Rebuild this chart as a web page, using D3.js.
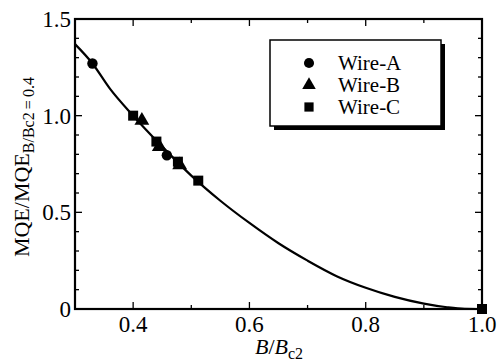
<!DOCTYPE html>
<html>
<head>
<meta charset="utf-8">
<script src="https://cdn.jsdelivr.net/npm/d3@7"></script>
<style>
  body { margin: 0; background: #fff; }
</style>
</head>
<body>
<div id="chart"></div>
<script>
// data
const wireA = [[0.33, 1.27], [0.458, 0.795]];
const wireB = [[0.415, 0.975], [0.445, 0.84], [0.48, 0.745]];
const wireC = [[0.40, 1.00], [0.44, 0.866], [0.477, 0.762], [0.512, 0.664], [1.0, 0.0]];
const fitCurve = [
  [0.30, 1.37], [0.33, 1.27], [0.36, 1.14], [0.40, 1.00], [0.45, 0.84],
  [0.50, 0.69], [0.55, 0.56], [0.60, 0.445], [0.65, 0.34], [0.70, 0.25],
  [0.75, 0.17], [0.80, 0.11], [0.85, 0.063], [0.90, 0.028], [0.94, 0.009],
  [0.97, 0.001], [1.00, 0.0]
];
const xTicks = [0.4, 0.6, 0.8, 1.0];
const xTickLabels = ['0.4', '0.6', '0.8', '1.0'];
const yTicks = [0, 0.5, 1.0, 1.5];
const yTickLabels = ['0', '0.5', '1.0', '1.5'];
const legendNames = ['Wire-A', 'Wire-B', 'Wire-C'];

const W = 502, H = 364;
const margin = { top: 19, right: 20, bottom: 55, left: 75 };
const FONT = 'Liberation Serif';

const svg = d3.select('#chart').append('svg')
  .attr('width', W).attr('height', H)
  .attr('font-family', FONT);

const x = d3.scaleLinear().domain([0.3, 1.0]).range([margin.left, W - margin.right]);
const y = d3.scaleLinear().domain([0, 1.5]).range([H - margin.bottom, margin.top]);

const x0 = x.range()[0], x1 = x.range()[1];
const y0 = y.range()[0], y1 = y.range()[1];

// ticks (inward, on all four sides)
const major = 7, minor = 4;
const tickG = svg.append('g').attr('stroke', '#000').attr('stroke-width', 1.3);
d3.range(0.3, 1.0001, 0.1).forEach(v => {
  const isMajor = Math.abs((v * 10) % 2) < 0.01;
  const len = isMajor ? major : minor;
  tickG.append('line').attr('x1', x(v)).attr('x2', x(v)).attr('y1', y0).attr('y2', y0 - len);
  tickG.append('line').attr('x1', x(v)).attr('x2', x(v)).attr('y1', y1).attr('y2', y1 + len);
});
d3.range(0, 1.5001, 0.1).forEach(v => {
  const isMajor = Math.abs(Math.round(v * 10) % 5) === 0;
  const len = isMajor ? major : minor;
  tickG.append('line').attr('y1', y(v)).attr('y2', y(v)).attr('x1', x0).attr('x2', x0 + len);
  tickG.append('line').attr('y1', y(v)).attr('y2', y(v)).attr('x1', x1).attr('x2', x1 - len);
});

// frame
svg.append('rect')
  .attr('x', x0).attr('y', y1).attr('width', x1 - x0).attr('height', y0 - y1)
  .attr('fill', 'none').attr('stroke', '#000').attr('stroke-width', 2.2);

// tick labels
svg.append('g').selectAll('text').data(xTicks).join('text')
  .attr('x', d => x(d)).attr('y', y0 + 23)
  .attr('text-anchor', 'middle').attr('font-size', 23)
  .text((d, i) => xTickLabels[i]);
svg.append('g').selectAll('text').data(yTicks).join('text')
  .attr('x', x0 - 4).attr('y', d => y(d) + 8)
  .attr('text-anchor', 'end').attr('font-size', 23)
  .text((d, i) => yTickLabels[i]);

// axis titles
const xt = svg.append('text').attr('x', 279).attr('y', 354)
  .attr('text-anchor', 'middle').attr('font-size', 22);
xt.append('tspan').attr('font-style', 'italic').text('B');
xt.append('tspan').text('/');
xt.append('tspan').attr('font-style', 'italic').text('B');
xt.append('tspan').attr('font-size', 16).attr('dy', 5).text('c2');

const yt = svg.append('text')
  .attr('transform', `translate(29, 167) rotate(-90)`)
  .attr('text-anchor', 'middle').attr('font-size', 22);
yt.append('tspan').text('MQE/MQE');
yt.append('tspan').attr('font-size', 16).attr('dy', 5).text('B/Bc2\u2009=\u20090.4');

// fit curve
const line = d3.line().x(d => x(d[0])).y(d => y(d[1])).curve(d3.curveMonotoneX);
svg.append('path').datum(fitCurve)
  .attr('d', line).attr('fill', 'none').attr('stroke', '#000').attr('stroke-width', 2.2);

// markers
const sym = {
  circle: d3.symbol().type(d3.symbolCircle).size(85),
  triangle: d3.symbol().type(d3.symbolTriangle).size(95),
  square: d3.symbol().type(d3.symbolSquare).size(100)
};
const series = [
  { data: wireA, s: sym.circle },
  { data: wireB, s: sym.triangle },
  { data: wireC, s: sym.square }
];
series.forEach(sr => {
  svg.append('g').selectAll('path').data(sr.data).join('path')
    .attr('transform', d => `translate(${x(d[0])},${y(d[1])})`)
    .attr('d', sr.s()).attr('fill', '#000');
});

// legend
const lg = svg.append('g');
lg.append('rect').attr('x', 274).attr('y', 44).attr('width', 171).attr('height', 86).attr('fill', '#000');
lg.append('rect').attr('x', 270).attr('y', 40).attr('width', 171).attr('height', 86)
  .attr('fill', '#fff').attr('stroke', '#000').attr('stroke-width', 1.5);
legendNames.forEach((name, i) => {
  const ly = 63 + i * 22;
  lg.append('path').attr('transform', `translate(309,${ly})`)
    .attr('d', series[i].s.size(i === 2 ? 85 : 80)()).attr('fill', '#000');
  lg.append('text').attr('x', 338).attr('y', ly + 7).attr('font-size', 21).text(name);
});
</script>
</body>
</html>
